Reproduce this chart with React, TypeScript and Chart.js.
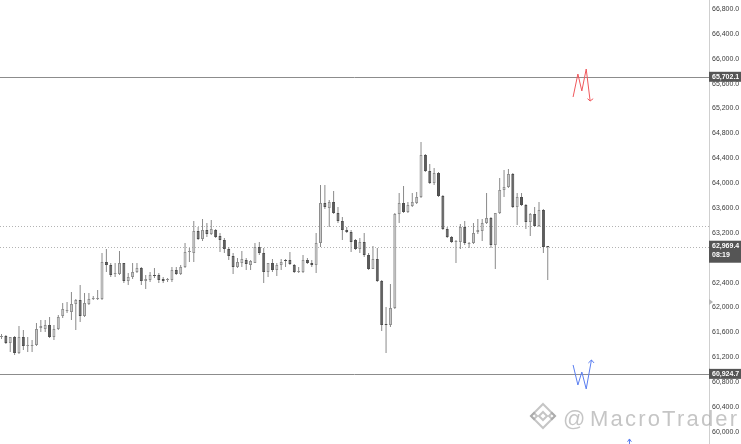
import React, { useEffect, useRef } from "react";
import { Chart, registerables } from "chart.js";

Chart.register(...registerables);

// ---------- candle data (BTC) ----------
const opens = [
  61526, 61542, 61430, 61526, 61269, 61526, 61381, 61381, 61397, 61671,
  61655, 61719, 61526, 61655, 61864, 61944, 61928, 62057, 62121, 61864,
  62057, 62137, 62137, 62137, 62732, 62684, 62539, 62539, 62716, 62427,
  62491, 62571, 62636, 62427, 62443, 62523, 62523, 62459, 62443, 62443,
  62603, 62539, 62652, 62893, 62877, 63231, 63102, 63247, 63182, 63247,
  63150, 63086, 62941, 62829, 62652, 62716, 62764, 62684, 62716, 62973,
  62877, 62571, 62716, 62603, 62684, 62764, 62764, 62684, 62571, 62571,
  62764, 62716, 62684, 63038, 63681, 63601, 63697, 63520, 63391, 63247,
  63215, 63086, 62941, 63054, 62845, 62620, 62780, 62427, 61735, 61719,
  61992, 63504, 63681, 63536, 63633, 63681, 63777, 64452, 64195, 64002,
  64163, 63793, 63263, 63134, 63054, 63054, 63295, 63022, 63038, 63215,
  63231, 63359, 63440, 63006, 63520, 63890, 63938, 64147, 63617, 63777,
  63649, 63375, 63504, 63311, 63568, 62989,
];
const highs = [
  61574, 61558, 61526, 61542, 61703, 61639, 61526, 61478, 61751, 61799,
  61799, 61848, 61719, 61880, 62073, 62089, 62250, 62137, 62362, 62234,
  62234, 62185, 62282, 62877, 62941, 62716, 62716, 62909, 62716, 62555,
  62716, 62716, 62652, 62523, 62571, 62636, 62555, 62491, 62475, 62652,
  62652, 62684, 63038, 62957, 63391, 63295, 63424, 63359, 63407, 63263,
  63198, 63118, 62973, 62877, 62796, 62909, 62796, 62764, 63038, 63054,
  62957, 62716, 62780, 62716, 62780, 62780, 62893, 62700, 62652, 62845,
  62796, 62764, 63198, 63970, 63970, 63729, 63874, 63617, 63456, 63295,
  63247, 63102, 63118, 63198, 62877, 62989, 62957, 62443, 62008, 62378,
  63520, 63842, 63954, 63697, 63842, 63858, 64662, 64469, 64308, 64244,
  64179, 63809, 63295, 63150, 63086, 63343, 63391, 63054, 63359, 63424,
  63424, 63842, 63456, 63520, 64083, 64211, 64228, 64163, 63842, 63842,
  63665, 63520, 63617, 63697, 63584, 62989,
];
const lows = [
  61494, 61414, 61285, 61237, 61253, 61317, 61285, 61285, 61381, 61607,
  61607, 61510, 61478, 61639, 61832, 61912, 61799, 61639, 61767, 61848,
  62041, 62121, 62121, 62121, 62571, 62491, 62491, 62523, 62394, 62362,
  62459, 62555, 62362, 62298, 62411, 62475, 62394, 62394, 62411, 62411,
  62523, 62523, 62636, 62732, 62732, 63086, 63070, 63134, 63166, 63118,
  62893, 62877, 62764, 62539, 62636, 62652, 62603, 62603, 62716, 62845,
  62394, 62491, 62571, 62507, 62603, 62652, 62684, 62555, 62555, 62555,
  62700, 62652, 62555, 62973, 63584, 63295, 63504, 63359, 63086, 63198,
  62893, 62925, 62877, 62813, 62603, 62620, 62411, 61623, 61269, 61687,
  61976, 63359, 63520, 63520, 63617, 63665, 63761, 64179, 63986, 63970,
  63777, 63247, 63118, 63038, 62716, 62941, 63006, 62957, 63022, 63182,
  63070, 63343, 62957, 62620, 63504, 63777, 63922, 63601, 63327, 63633,
  63263, 63150, 63295, 63295, 62877, 62443,
];
const closes = [
  61542, 61430, 61526, 61269, 61526, 61381, 61397, 61397, 61655, 61703,
  61719, 61526, 61655, 61848, 61976, 61960, 62057, 62121, 61864, 62073,
  62137, 62153, 62153, 62732, 62684, 62523, 62555, 62716, 62427, 62491,
  62571, 62636, 62427, 62459, 62523, 62507, 62443, 62427, 62459, 62603,
  62539, 62652, 62893, 62909, 63231, 63102, 63247, 63182, 63263, 63134,
  63086, 62941, 62829, 62652, 62732, 62780, 62700, 62748, 62973, 62877,
  62571, 62716, 62603, 62684, 62732, 62748, 62700, 62571, 62587, 62764,
  62716, 62684, 63038, 63681, 63617, 63697, 63520, 63391, 63247, 63215,
  63054, 62941, 63054, 62845, 62620, 62780, 62427, 61719, 61719, 61992,
  63504, 63681, 63536, 63649, 63697, 63777, 64452, 64195, 64002, 64163,
  63793, 63263, 63134, 63054, 63070, 63295, 63038, 63038, 63198, 63247,
  63359, 63440, 63006, 63520, 63890, 63938, 64147, 63617, 63777, 63649,
  63375, 63504, 63311, 63568, 62973, 62969.4,
];

// ---------- price axis ticks ----------
const tickValues = [
  60000, 60400, 60800, 61200, 61600, 62000, 62400, 62800, 63200,
  63600, 64000, 64400, 64800, 65200, 65600, 66000, 66400, 66800,
];

// ---------- levels / labels ----------
const solidLevels = [65702.1, 60924.7];
const dottedLevels = [63311, 62969.4];
const tagValues = [65702.1, 62969.4, 60924.7];
const tagTexts = ["65,702.1", "62,969.4", "60,924.7"];
const tagSubTexts = ["", "08:19", ""];
const axisMarkers = [62090, 60980];

// ---------- hand drawings (candle index, price) ----------
const mLineX = [131.8, 132.9, 133.8, 134.8, 135.7];
const mLineY = [65385, 65755, 65482, 65835, 65321];
const mHeadX = [135.1, 135.7, 136.4];
const mHeadY = [65358, 65321, 65358];
const wLineX = [131.8, 132.9, 133.8, 134.8, 136.0];
const wLineY = [61076, 60754, 60963, 60690, 61156];
const wHeadX = [135.3, 136.0, 136.6];
const wHeadY = [61108, 61156, 61108];
const smallArrowX = [144.7, 144.7];
const smallArrowY = [59805, 59886];
const smallHeadX = [144.25, 144.7, 145.15];
const smallHeadY = [59840, 59886, 59840];

// ---------- scale window ----------
const Y_MIN = 59805;
const Y_MAX = 66945;
const X_MIN = 0.657;
const X_MAX = 162.9;

const UP_FILL = "#c9c9c9";
const UP_BORDER = "#8e8e8e";
const DOWN_FILL = "#575757";
const DOWN_BORDER = "#4d4d4d";
const WICK = "#8a8a8a";
const RED = "#f0585c";
const BLUE = "#5a7ef0";

const fmt = (v: number) =>
  v.toLocaleString("en-US", { minimumFractionDigits: 1, maximumFractionDigits: 1 });

function strokePath(ctx: CanvasRenderingContext2D, xs: number[], ys: number[], xScale: any, yScale: any) {
  ctx.beginPath();
  xs.forEach((xv, i) => {
    const px = xScale.getPixelForValue(xv);
    const py = yScale.getPixelForValue(ys[i]);
    if (i === 0) ctx.moveTo(px, py);
    else ctx.lineTo(px, py);
  });
  ctx.stroke();
}

const overlayPlugin = {
  id: "overlay",
  beforeDatasetsDraw(chart: any) {
    const { ctx, chartArea, scales } = chart;
    const y = scales.y;
    ctx.save();
    ctx.lineWidth = 1;
    ctx.strokeStyle = "#b3b3b3";
    ctx.setLineDash([1, 2]);
    dottedLevels.forEach((v) => {
      const py = Math.round(y.getPixelForValue(v)) + 0.5;
      ctx.beginPath();
      ctx.moveTo(chartArea.left, py);
      ctx.lineTo(chartArea.right, py);
      ctx.stroke();
    });
    ctx.setLineDash([]);
    ctx.strokeStyle = "#8c8c8c";
    solidLevels.forEach((v) => {
      const py = Math.round(y.getPixelForValue(v)) + 0.5;
      ctx.beginPath();
      ctx.moveTo(chartArea.left, py);
      ctx.lineTo(chartArea.right, py);
      ctx.stroke();
    });
    ctx.restore();
  },
  afterDatasetsDraw(chart: any) {
    const { ctx, scales } = chart;
    const x = scales.x;
    const y = scales.y;
    ctx.save();
    ctx.lineWidth = 1;
    ctx.strokeStyle = RED;
    strokePath(ctx, mLineX, mLineY, x, y);
    strokePath(ctx, mHeadX, mHeadY, x, y);
    ctx.strokeStyle = BLUE;
    strokePath(ctx, wLineX, wLineY, x, y);
    strokePath(ctx, wHeadX, wHeadY, x, y);
    strokePath(ctx, smallArrowX, smallArrowY, x, y);
    strokePath(ctx, smallHeadX, smallHeadY, x, y);
    ctx.restore();
  },
  afterDraw(chart: any) {
    const { ctx, chartArea, scales } = chart;
    const y = scales.y;
    ctx.save();

    // watermark
    const wx = chartArea.right - 146;
    const wy = chartArea.bottom - 18;
    ctx.fillStyle = "rgba(150,150,150,0.55)";
    ctx.font = '22px "Liberation Sans", Arial, sans-serif';
    ctx.textAlign = "left";
    ctx.textBaseline = "alphabetic";
    ctx.fillText("@", wx, wy);
    (ctx as any).letterSpacing = "2.2px";
    ctx.fillText("MacroTrader", wx + 27, wy);
    (ctx as any).letterSpacing = "0px";
    // logo (rotated squares)
    ctx.strokeStyle = "rgba(150,150,150,0.55)";
    ctx.lineWidth = 2;
    const lcx = wx - 20;
    const lcy = wy - 10;
    const diamond = (cx: number, cy: number, r: number) => {
      ctx.beginPath();
      ctx.moveTo(cx, cy - r);
      ctx.lineTo(cx + r, cy);
      ctx.lineTo(cx, cy + r);
      ctx.lineTo(cx - r, cy);
      ctx.closePath();
      ctx.stroke();
    };
    diamond(lcx, lcy, 4);
    diamond(lcx - 9, lcy, 3);
    diamond(lcx + 9, lcy, 3);
    diamond(lcx, lcy, 12);

    // axis markers
    ctx.fillStyle = "#b5b5b5";
    axisMarkers.forEach((v) => {
      const py = y.getPixelForValue(v);
      ctx.beginPath();
      ctx.moveTo(chartArea.right, py - 3);
      ctx.lineTo(chartArea.right + 4, py);
      ctx.lineTo(chartArea.right, py + 3);
      ctx.closePath();
      ctx.fill();
    });

    // price tags
    ctx.font = 'bold 7px "Liberation Sans", Arial, sans-serif';
    ctx.textBaseline = "middle";
    tagValues.forEach((v, i) => {
      const py = y.getPixelForValue(v);
      const sub = tagSubTexts[i];
      const top = sub ? py - 6.5 : py - 5.5;
      const h = sub ? 22 : 10;
      ctx.fillStyle = "#555555";
      ctx.fillRect(chartArea.right, top, 741 - chartArea.right, h);
      ctx.fillStyle = "#ffffff";
      ctx.fillText(tagTexts[i], chartArea.right + 3, top + 5);
      if (sub) ctx.fillText(sub, chartArea.right + 3, top + 14.5);
    });
    ctx.restore();
  },
};

export default function App() {
  const ref = useRef<HTMLCanvasElement>(null);
  useEffect(() => {
    const idx = closes.map((_, i) => i + 1);
    const isUp = closes.map((c, i) => c >= opens[i]);
    const wickData = idx.map((xv, i) => ({ x: xv, y: [lows[i], highs[i]] }));
    const bodyData = idx.map((xv, i) => ({ x: xv, y: [opens[i], closes[i]] }));

    const chart = new Chart(ref.current as HTMLCanvasElement, {
      type: "bar",
      data: {
        datasets: [
          {
            label: "wicks",
            data: wickData as any,
            backgroundColor: WICK,
            borderWidth: 0,
            grouped: false,
            maxBarThickness: 1,
            order: 2,
          } as any,
          {
            label: "bodies",
            data: bodyData as any,
            backgroundColor: isUp.map((u) => (u ? UP_FILL : DOWN_FILL)),
            borderColor: isUp.map((u) => (u ? UP_BORDER : DOWN_BORDER)),
            borderWidth: 1,
            borderSkipped: false,
            grouped: false,
            maxBarThickness: 3,
            minBarLength: 1,
            order: 1,
          } as any,
        ],
      },
      options: {
        animation: false,
        responsive: true,
        maintainAspectRatio: false,
        layout: { padding: 0 },
        plugins: { legend: { display: false }, tooltip: { enabled: false } },
        scales: {
          x: {
            type: "linear",
            min: X_MIN,
            max: X_MAX,
            offset: false,
            display: false,
          },
          y: {
            type: "linear",
            position: "right",
            min: Y_MIN,
            max: Y_MAX,
            grid: { display: false, drawTicks: false },
            border: { display: true, color: "#cfcfcf" },
            ticks: {
              autoSkip: false,
              padding: 3,
              color: "#3a3a3a",
              font: { family: '"Liberation Sans", Arial, sans-serif', size: 7 },
              callback: (v: any) => fmt(Number(v)),
            },
            afterBuildTicks: (s: any) => {
              s.ticks = tickValues.map((v) => ({ value: v }));
            },
            afterFit: (s: any) => {
              s.width = 32;
              s.paddingTop = 0;
              s.paddingBottom = 0;
            },
          } as any,
        },
      },
      plugins: [overlayPlugin],
    });
    return () => chart.destroy();
  }, []);

  return (
    <div
      style={{
        position: "fixed",
        left: 0,
        top: 0,
        width: 741,
        height: 444,
        background: "#ffffff",
      }}
    >
      <canvas ref={ref} />
    </div>
  );
}
